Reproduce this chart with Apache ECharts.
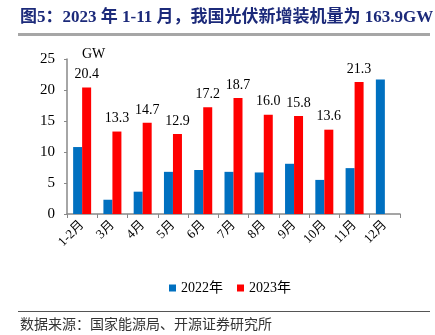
<!DOCTYPE html>
<html><head><meta charset="utf-8">
<script src="https://cdn.jsdelivr.net/npm/echarts@6/dist/echarts.min.js"></script>
<style>html,body{margin:0;padding:0;background:#fff}#c{width:435px;height:335px}</style>
</head><body><div id="c"></div>
<script>
const categories = ['1-2月','3月','4月','5月','6月','7月','8月','9月','10月','11月','12月'];
const values2022 = [10.8, 2.3, 3.6, 6.8, 7.1, 6.8, 6.7, 8.1, 5.5, 7.4, 21.7];
const values2023 = [20.4, 13.3, 14.7, 12.9, 17.2, 18.7, 16.0, 15.8, 13.6, 21.3, null];
const yTicks = [0, 5, 10, 15, 20, 25];
const serif = '"Liberation Serif", "Times New Roman", "Noto Sans CJK SC", serif';
const chart = echarts.init(document.getElementById('c'));
chart.setOption({
  animation: false,
  grid: {left: 67, right: 35, top: 59, bottom: 121},
  graphic: [
    {type: 'text', left: 20, top: 9, style: {text: '图5：2023 年 1-11 月，我国光伏新增装机量为 163.9GW', font: 'bold 17px ' + serif, fill: '#1c2a7a'}},
    {type: 'rect', shape: {x: 18, y: 33, width: 412, height: 3}, style: {fill: '#a6a6a6'}},
    {type: 'rect', shape: {x: 18, y: 311, width: 412, height: 1}, style: {fill: '#555'}},
    {type: 'text', left: 20, top: 318, style: {text: '数据来源：国家能源局、开源证券研究所', font: '14px ' + serif, fill: '#333'}},
    {type: 'text', left: 82, top: 47, style: {text: 'GW', font: '14px ' + serif, fill: '#000'}}
  ],
  legend: {
    top: 276, left: 164, itemWidth: 7, itemHeight: 7, itemGap: 14,
    icon: 'rect',
    textStyle: {fontFamily: serif, fontSize: 14, color: '#000'},
    data: ['2022年', '2023年']
  },
  xAxis: {
    type: 'category', data: categories,
    axisLine: {lineStyle: {color: '#888', width: 1.5}},
    axisTick: {show: true, length: 4, lineStyle: {color: '#888'}},
    axisLabel: {rotate: 45, fontFamily: serif, fontSize: 13, color: '#000', margin: 9, interval: 0}
  },
  yAxis: {
    type: 'value', min: 0, max: 25, interval: 5,
    axisLine: {show: true, lineStyle: {color: '#888', width: 1.5}},
    axisTick: {show: true, inside: false, length: 3, lineStyle: {color: '#888'}},
    splitLine: {show: false},
    axisLabel: {fontFamily: serif, fontSize: 15, color: '#000', margin: 12,
      formatter: v => yTicks.includes(v) ? String(v) : ''}
  },
  series: [
    {name: '2022年', type: 'bar', data: values2022, barWidth: 9, barGap: '0%',
      itemStyle: {color: '#0070C0'}},
    {name: '2023年', type: 'bar', data: values2023, barWidth: 9,
      itemStyle: {color: '#FF0000'},
      label: {show: true, position: 'top', distance: 6, fontFamily: serif, fontSize: 14, color: '#000',
        formatter: p => p.value == null ? '' : p.value.toFixed(1)}}
  ]
});
</script></body></html>
